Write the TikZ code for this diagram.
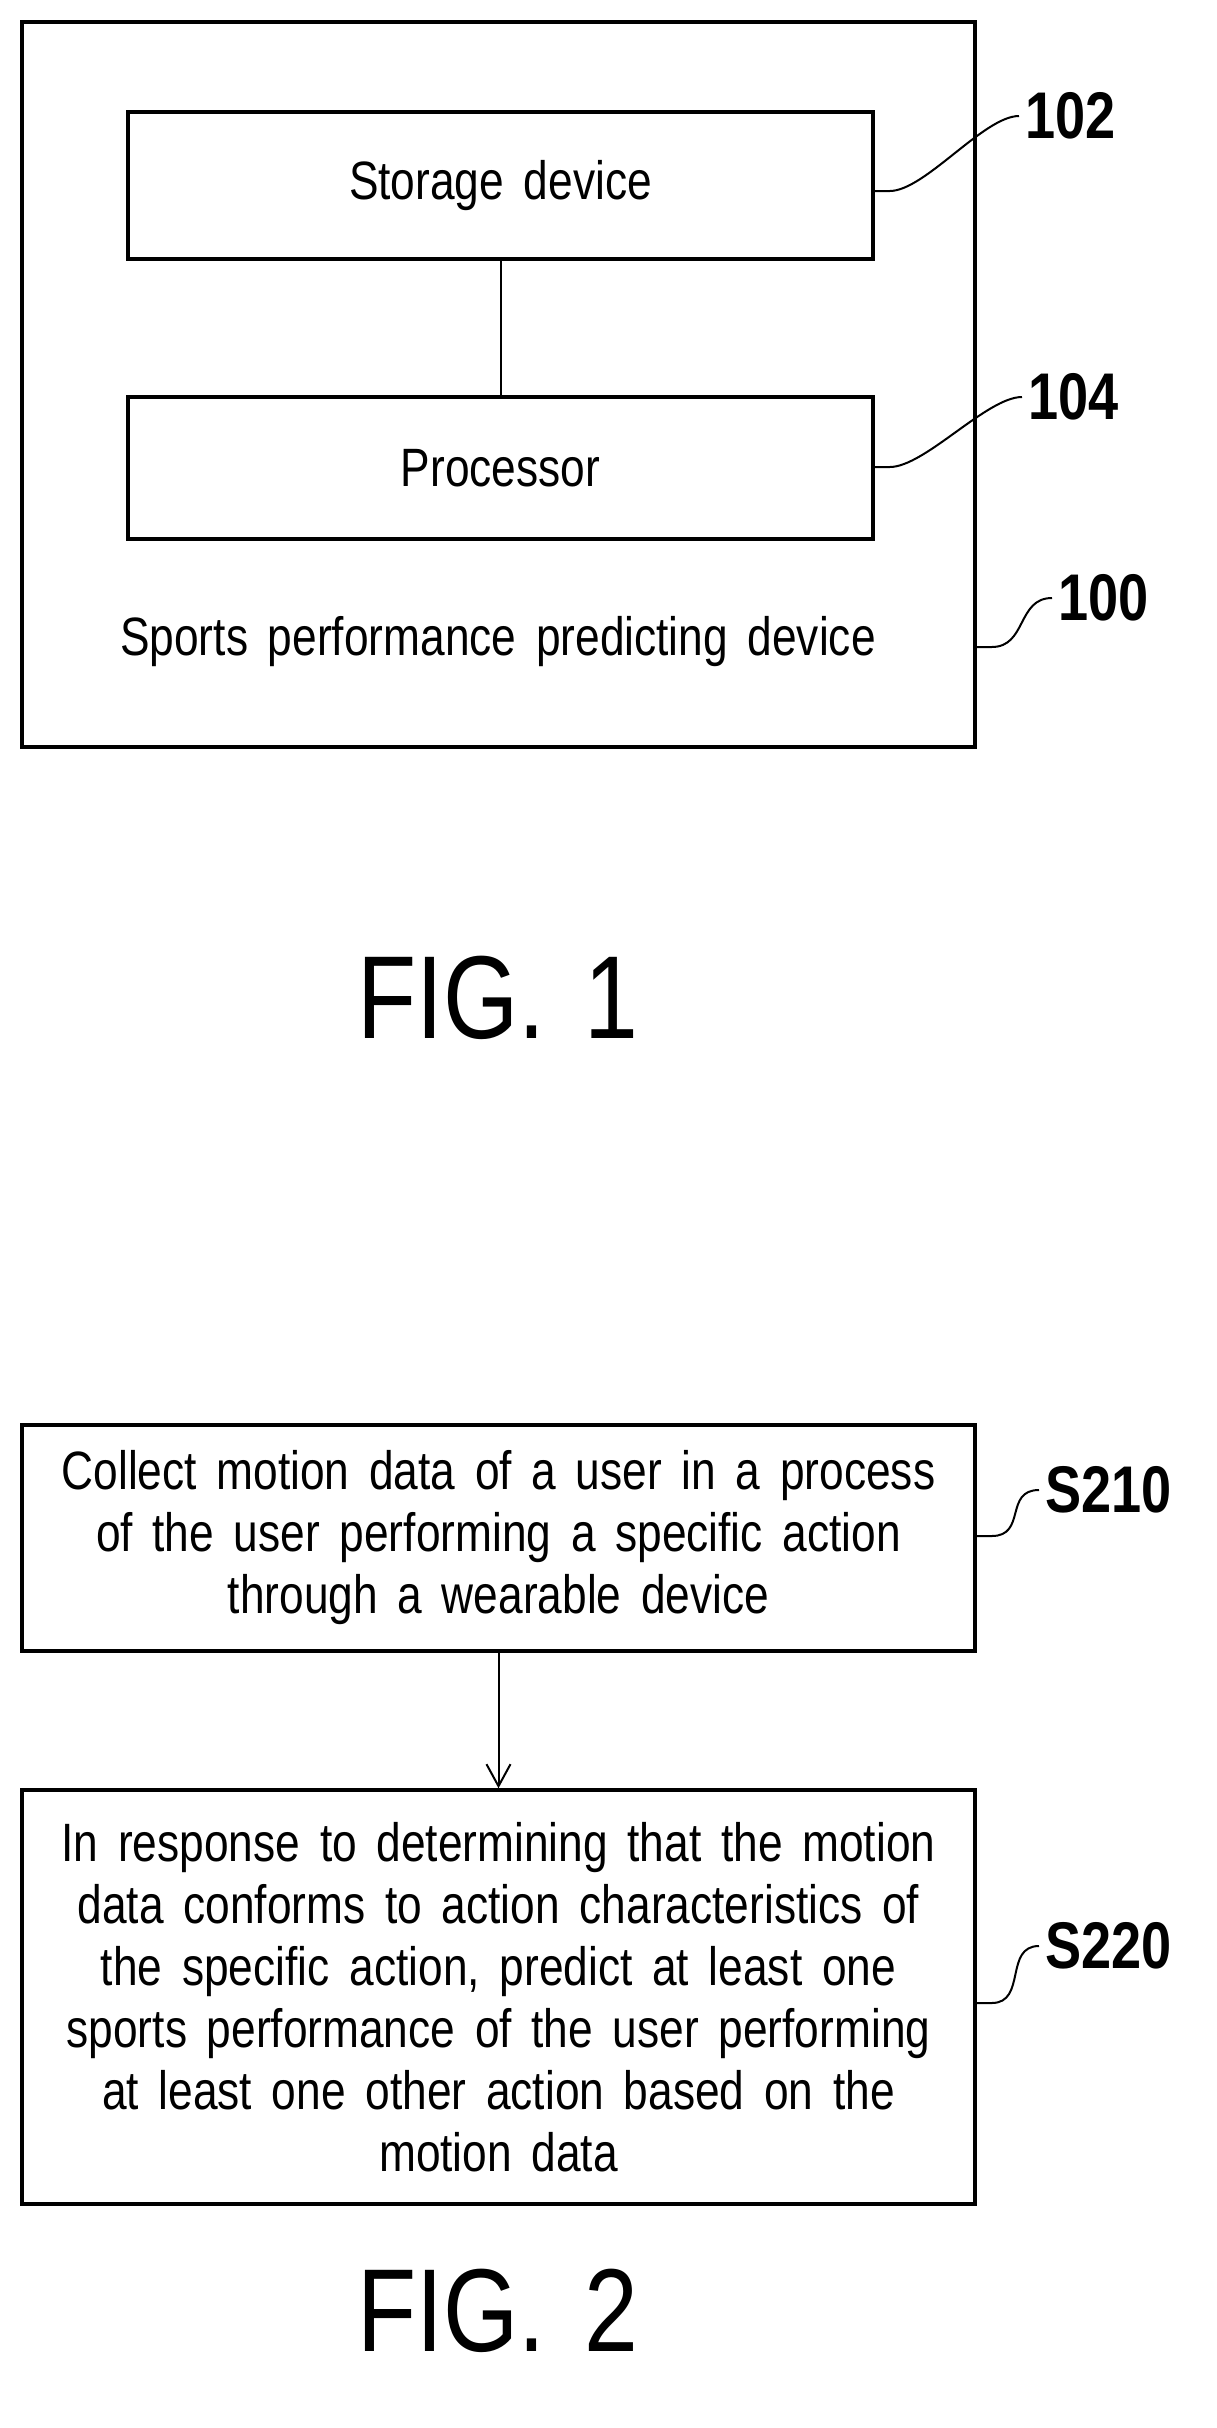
\documentclass[tikz,border=0pt]{standalone}
\usepackage{fontspec}
\setmainfont{Liberation Sans}[FakeStretch=0.82,WordSpace=1.6]
\usetikzlibrary{arrows.meta}
\begin{document}
\begin{tikzpicture}[x=1pt,y=-1pt,
  box/.style={draw,line width=3.5pt},
  lead/.style={line width=2pt},
  txt/.style={align=center,inner sep=0pt,font=\fontsize{54}{62}\selectfont},
  ref/.style={anchor=west,inner sep=0pt,font=\fontsize{66}{70}\selectfont\bfseries},
  fig/.style={inner sep=0pt,font=\fontsize{118}{120}\selectfont}]
\useasboundingbox (0,0) rectangle (1217,2428);
\node[box,minimum width=953,minimum height=725,inner sep=0pt] (outer) at (498.5,384.5) {};
\node[box,minimum width=745,minimum height=147,inner sep=0pt] (stor) at (500.5,185.5) {};
\node[txt] at (stor) {Storage device};
\node[box,minimum width=745,minimum height=142,inner sep=0pt] (proc) at (500.5,468) {};
\node[txt] at (proc) {Processor};
\draw[line width=2pt] (stor.south) -- (proc.south |- proc.north);
\node[txt] (sp) at (498,642) {Sports performance predicting device};
\node[ref] (r102) at (1025,116) {102};
\node[ref] (r104) at (1028,397) {104};
\node[ref] (r100) at (1058,598) {100};
\draw[lead] (stor.east |- 0,191) -- +(15,0) .. controls +(35,0) and +(-35,0) .. ([xshift=-6pt]r102.west);
\draw[lead] (proc.east |- 0,467) -- +(15,0) .. controls +(35,0) and +(-35,0) .. ([xshift=-6pt]r104.west);
\draw[lead] (outer.east |- 0,647) -- +(15,0) .. controls +(35,0) and +(-35,0) .. ([xshift=-6pt]r100.west);
\node[fig] (f1) at (498,998) {FIG.\,\,1};
\node[box,minimum width=953,minimum height=226,inner sep=0pt] (s1) at (498.5,1538) {};
\node[txt] at (s1) {Collect motion data of a user in a process\\of the user performing a specific action\\through a wearable device};
\node[box,minimum width=953,minimum height=414,inner sep=0pt] (s2) at (498.5,1997) {};
\node[txt] at (s2) {In response to determining that the motion\\data conforms to action characteristics of\\the specific action, predict at least one\\sports performance of the user performing\\at least one other action based on the\\motion data};
\draw[line width=2pt,-{Straight Barb[length=22pt,width=24pt,line width=2pt]}] (s1.south) -- (s2.north);
\node[ref] (r210) at (1045,1490) {S210};
\node[ref] (r220) at (1045,1946) {S220};
\draw[lead] (s1.east |- 0,1536) -- +(15,0) .. controls +(35,0) and +(-35,0) .. ([xshift=-6pt]r210.west);
\draw[lead] (s2.east |- 0,2003) -- +(15,0) .. controls +(35,0) and +(-35,0) .. ([xshift=-6pt]r220.west);
\node[fig] (f2) at (498,2311) {FIG.\,\,2};
\end{tikzpicture}
\end{document}
